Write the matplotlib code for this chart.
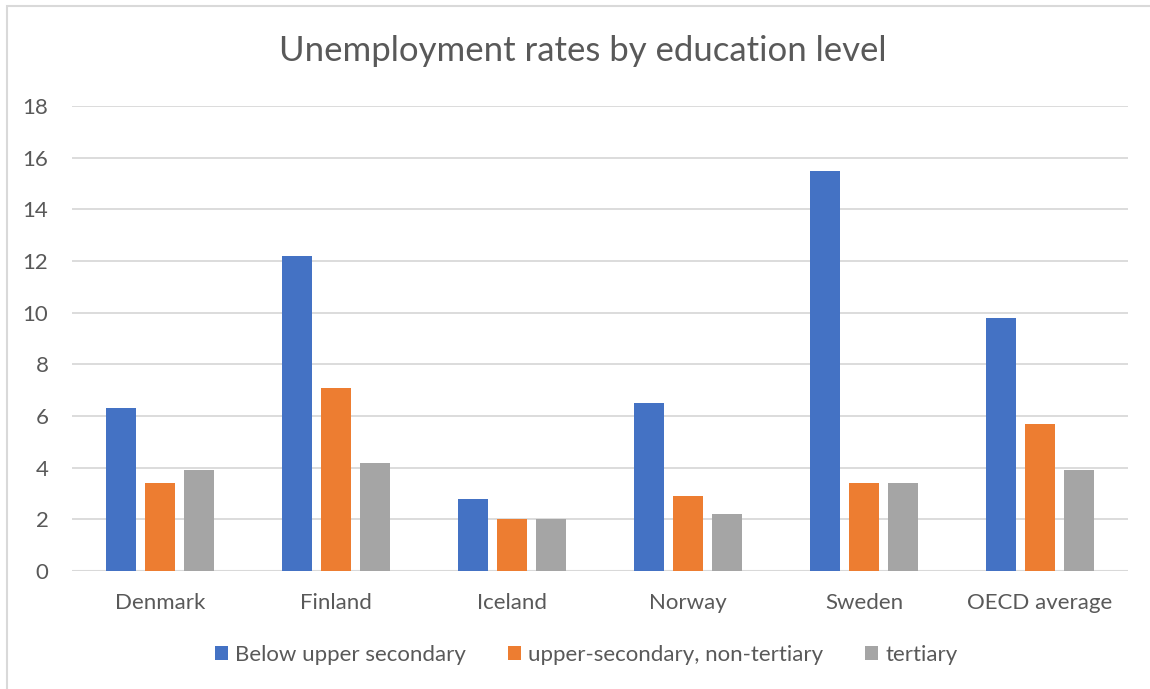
import numpy as np
import matplotlib.pyplot as plt
from matplotlib.patches import Rectangle

countries = ['Denmark', 'Finland', 'Iceland', 'Norway', 'Sweden', 'OECD average']
below_upper = [6.3, 12.2, 2.8, 6.5, 15.5, 9.8]
upper_sec = [3.4, 7.1, 2.0, 2.9, 3.4, 5.7]
tertiary = [3.9, 4.2, 2.0, 2.2, 3.4, 3.9]
series_names = ['Below upper secondary', 'upper-secondary, non-tertiary', 'tertiary']
colors = ['#4472C4', '#ED7D31', '#A5A5A5']
txt = '#595959'

plt.rcParams['font.family'] = ['Lato', 'DejaVu Sans']

fig = plt.figure(figsize=(11.5, 6.89), dpi=100)
W, H = 1150, 689
ax = fig.add_axes([72 / W, 1 - 571 / H, (1128 - 72) / W, (571 - 106) / H])

# outer chart frame (left and top edges visible)
fig.add_artist(Rectangle((7 / W, -0.1), 1.2, 1 - 6 / H + 0.1, transform=fig.transFigure,
                         fill=False, edgecolor='#D9D9D9', linewidth=1.5))

x = np.arange(len(countries))
bw = 0.17
step = 0.222
for i, (vals, name) in enumerate(zip([below_upper, upper_sec, tertiary], series_names)):
    ax.bar(x + (i - 1) * step, vals, width=bw, color=colors[i], label=name, zorder=3)

ax.set_xlim(-0.5, len(countries) - 0.5)
ax.set_ylim(0, 18)
ax.set_yticks(range(0, 19, 2))
ax.set_xticks(x)
ax.set_xticklabels(countries)
ax.grid(axis='y', color='#D9D9D9', linewidth=1.3, zorder=0)
for s in ax.spines.values():
    s.set_visible(False)
ax.axhline(0, color='#D9D9D9', linewidth=1.5, zorder=2)
ax.tick_params(axis='both', length=0, labelsize=16, colors=txt)
ax.tick_params(axis='y', pad=17)
ax.tick_params(axis='x', pad=16)

fig.text(583 / W, 1 - 51 / H, 'Unemployment rates by education level', ha='center', va='center',
         fontsize=25, color=txt)

leg = fig.legend(loc='center', bbox_to_anchor=(586 / W, 1 - 655 / H), ncol=3, frameon=False,
                 fontsize=16, handlelength=0.6, handleheight=0.6, handletextpad=0.3,
                 columnspacing=1.9)
for t in leg.get_texts():
    t.set_color(txt)

fig.savefig('out.png', dpi=100)
